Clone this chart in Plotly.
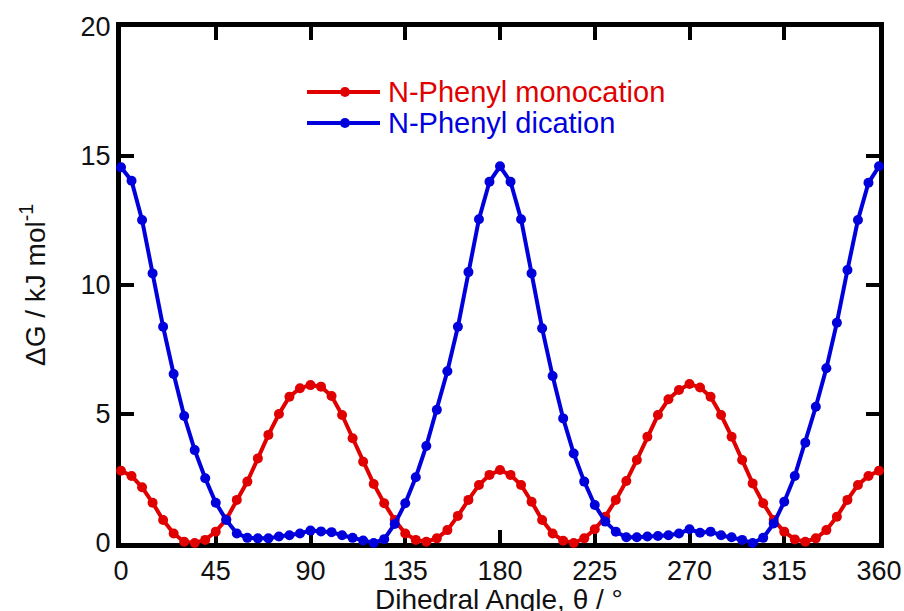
import plotly.graph_objects as go

angles = [0, 5, 10, 15, 20, 25, 30, 35, 40, 45, 50, 55, 60, 65, 70, 75, 80, 85, 90,
          95, 100, 105, 110, 115, 120, 125, 130, 135, 140, 145, 150, 155, 160, 165, 170, 175, 180,
          185, 190, 195, 200, 205, 210, 215, 220, 225, 230, 235, 240, 245, 250, 255, 260, 265, 270,
          275, 280, 285, 290, 295, 300, 305, 310, 315, 320, 325, 330, 335, 340, 345, 350, 355, 360]

monocation = [2.80, 2.60, 2.16, 1.56, 0.89, 0.37, 0.05, 0.00, 0.12, 0.44, 0.92, 1.67, 2.38, 3.28, 4.19, 5.00, 5.67, 6.00, 6.12,
              6.06, 5.70, 4.96, 4.06, 3.15, 2.29, 1.54, 0.89, 0.37, 0.12, 0.05, 0.18, 0.50, 1.05, 1.67, 2.25, 2.64, 2.83,
              2.64, 2.25, 1.60, 0.89, 0.37, 0.09, 0.00, 0.18, 0.53, 1.02, 1.67, 2.40, 3.22, 4.12, 4.96, 5.57, 5.93, 6.16,
              6.03, 5.67, 4.96, 4.12, 3.22, 2.31, 1.54, 0.89, 0.44, 0.14, 0.05, 0.18, 0.50, 1.02, 1.67, 2.25, 2.60, 2.80]

dication = [14.56, 14.04, 12.52, 10.45, 8.38, 6.55, 4.92, 3.60, 2.51, 1.56, 0.89, 0.37, 0.20, 0.18, 0.18, 0.25, 0.30, 0.37, 0.48,
            0.45, 0.42, 0.30, 0.20, 0.10, 0.00, 0.15, 0.74, 1.54, 2.55, 3.76, 5.16, 6.66, 8.38, 10.50, 12.55, 14.00, 14.60,
            14.00, 12.55, 10.45, 8.32, 6.47, 4.83, 3.47, 2.38, 1.47, 0.83, 0.44, 0.22, 0.22, 0.25, 0.27, 0.30, 0.37, 0.53,
            0.40, 0.44, 0.30, 0.22, 0.12, 0.00, 0.20, 0.76, 1.60, 2.60, 3.89, 5.28, 6.77, 8.54, 10.58, 12.52, 13.96, 14.60]

series_names = ["N-Phenyl monocation", "N-Phenyl dication"]
series_colors = ["#e00000", "#0000dd"]
x_ticks = [0, 45, 90, 135, 180, 225, 270, 315, 360]
y_ticks = [0, 5, 10, 15, 20]

FONT = "Arial, Liberation Sans, Helvetica, sans-serif"

fig = go.Figure()
for name, vals, col in zip(series_names, [monocation, dication], series_colors):
    fig.add_trace(go.Scatter(
        x=angles, y=vals, mode="lines+markers", name=name,
        line=dict(color=col, width=4),
        marker=dict(color=col, size=10, symbol="circle"),
        cliponaxis=False, showlegend=False,
    ))

# manual legend
leg_y = [0.874, 0.814]
shapes = []
annotations = []
for name, col, yy in zip(series_names, series_colors, leg_y):
    shapes.append(dict(type="line", xref="paper", yref="paper", x0=0.2454, x1=0.3417,
                       y0=yy, y1=yy, line=dict(color=col, width=4)))
    shapes.append(dict(type="circle", xref="paper", yref="paper",
                       xsizemode="pixel", ysizemode="pixel",
                       xanchor=0.2955, yanchor=yy, x0=-5, x1=5, y0=-5, y1=5,
                       fillcolor=col, line=dict(color=col, width=0)))
    annotations.append(dict(text=name, xref="paper", yref="paper", x=0.3536, xshift=-3, y=yy,
                            xanchor="left", yanchor="middle", showarrow=False,
                            font=dict(family=FONT, size=29, color=col)))

annotations.append(dict(text="Dihedral Angle, θ / °", xref="paper", yref="paper",
                        x=0.4987, y=0, yshift=-56, xanchor="center", yanchor="middle",
                        borderpad=0, showarrow=False,
                        font=dict(family=FONT, size=28, color="#111")))
annotations.append(dict(text="ΔG / kJ mol<sup>-1</sup>", xref="paper", yref="paper",
                        x=0, xshift=-88, y=0.5, xanchor="center", yanchor="middle",
                        textangle=-90, showarrow=False,
                        font=dict(family=FONT, size=28, color="#111")))

axis_common = dict(showline=True, linecolor="black", linewidth=5, mirror="ticks",
                   ticks="inside", ticklen=13, tickwidth=4, tickcolor="black",
                   showgrid=False, zeroline=False, automargin=False,
                   tickfont=dict(family=FONT, size=27, color="#111"))

fig.update_layout(
    width=904, height=611,
    margin=dict(l=121, r=25, t=27, b=68, autoexpand=False),
    paper_bgcolor="white", plot_bgcolor="white",
    xaxis=dict(range=[0, 360], tickvals=x_ticks, ticktext=[str(v) for v in x_ticks],
               layer="below traces", **axis_common),
    yaxis=dict(range=[0, 20], tickvals=y_ticks, ticktext=[str(v) for v in y_ticks],
               layer="below traces", **axis_common),
    shapes=shapes, annotations=annotations,
    showlegend=False,
)

# remove the default page margin so the figure fills the window exactly
fig.write_html("out.html",
               config={"displayModeBar": False},
               post_script="document.body.style.margin='0';document.body.style.overflow='hidden';")
